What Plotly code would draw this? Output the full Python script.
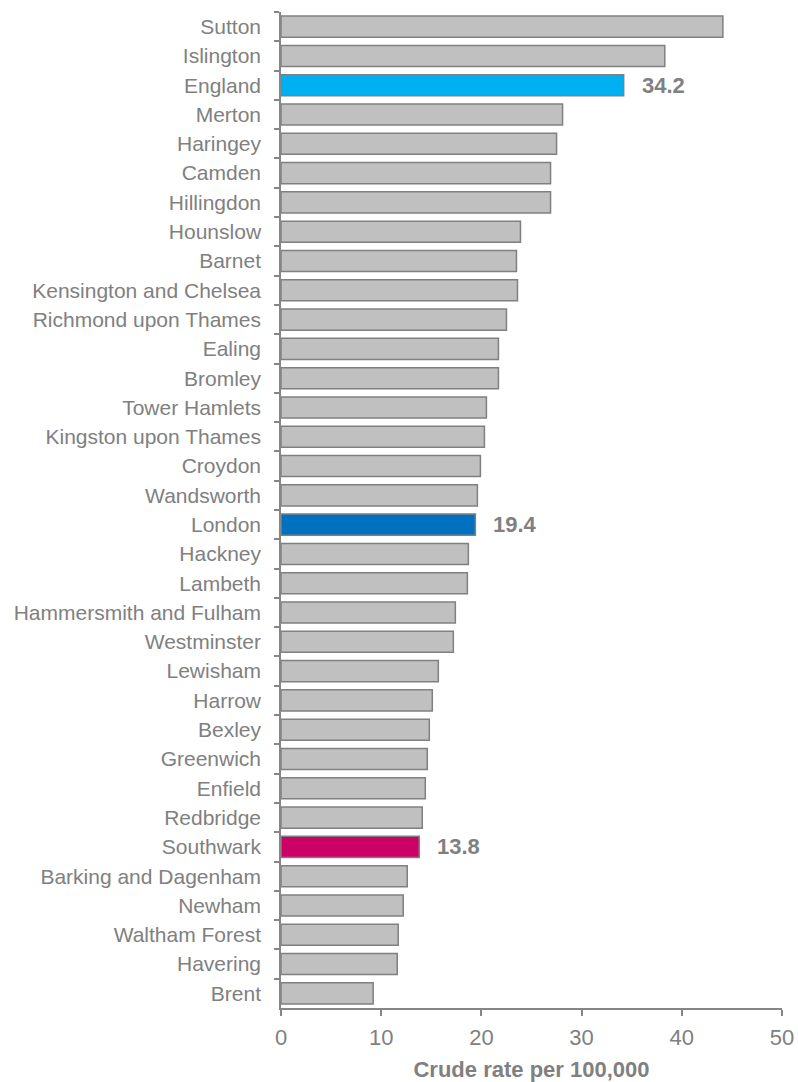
import plotly.graph_objects as go

areas = ["Sutton", "Islington", "England", "Merton", "Haringey", "Camden", "Hillingdon",
         "Hounslow", "Barnet", "Kensington and Chelsea", "Richmond upon Thames", "Ealing",
         "Bromley", "Tower Hamlets", "Kingston upon Thames", "Croydon", "Wandsworth",
         "London", "Hackney", "Lambeth", "Hammersmith and Fulham", "Westminster",
         "Lewisham", "Harrow", "Bexley", "Greenwich", "Enfield", "Redbridge", "Southwark",
         "Barking and Dagenham", "Newham", "Waltham Forest", "Havering", "Brent"]
rates = [44.1, 38.3, 34.2, 28.1, 27.5, 26.9, 26.9,
         23.9, 23.5, 23.6, 22.5, 21.7,
         21.7, 20.5, 20.3, 19.9, 19.6,
         19.4, 18.7, 18.6, 17.4, 17.2,
         15.7, 15.1, 14.8, 14.6, 14.4, 14.1, 13.8,
         12.6, 12.2, 11.7, 11.6, 9.2]
highlight_colors = {"England": "#00B0F0", "London": "#0070C0", "Southwark": "#CC0066"}
x_ticks = [0, 10, 20, 30, 40, 50]
x_title = "Crude rate per 100,000"

grey_text = "#808080"
colors = [highlight_colors.get(a, "#C0C0C0") for a in areas]

fig = go.Figure(go.Bar(
    x=rates, y=areas, orientation="h",
    marker=dict(color=colors, line=dict(color="#808080", width=1.5)),
    width=0.72,
    hoverinfo="skip",
))

for a, v in zip(areas, rates):
    if a in highlight_colors:
        fig.add_annotation(x=v, y=a, text="<b>%.1f</b>" % v, showarrow=False,
                           xanchor="left", xshift=16,
                           font=dict(family="Liberation Sans, Arial", size=22, color=grey_text))

fig.update_layout(
    width=798, height=1082,
    margin=dict(l=281, r=16, t=12, b=74, autoexpand=False),
    plot_bgcolor="white", paper_bgcolor="white",
    showlegend=False,
    font=dict(family="Liberation Sans, Arial", size=21, color=grey_text),
    xaxis=dict(range=[0, 50], tickvals=x_ticks, showgrid=False, zeroline=False,
               automargin=False,
               showline=True, linecolor="#868686", linewidth=1.5,
               ticks="outside", ticklen=6, tickcolor="#868686", tickwidth=1.5,
               ticklabelstandoff=3,
               tickfont=dict(size=22, color=grey_text),
               title=dict(text="<b>" + x_title + "</b>", standoff=16,
                          font=dict(size=22, color=grey_text))),
    yaxis=dict(categoryorder="array", categoryarray=areas, autorange="reversed",
               automargin=False,
               showgrid=False, showline=True, linecolor="#868686", linewidth=1.5,
               ticks="outside", ticklen=5, tickcolor="#868686", tickwidth=1.5,
               tickson="boundaries", ticklabelstandoff=14,
               tickfont=dict(size=21, color=grey_text)),
)

# remove the default page margin so the 798x1082 figure fills the window exactly
fig.write_html("out.html", config={"displayModeBar": False},
               post_script="document.body.style.margin='0px';document.body.style.overflow='hidden';")
